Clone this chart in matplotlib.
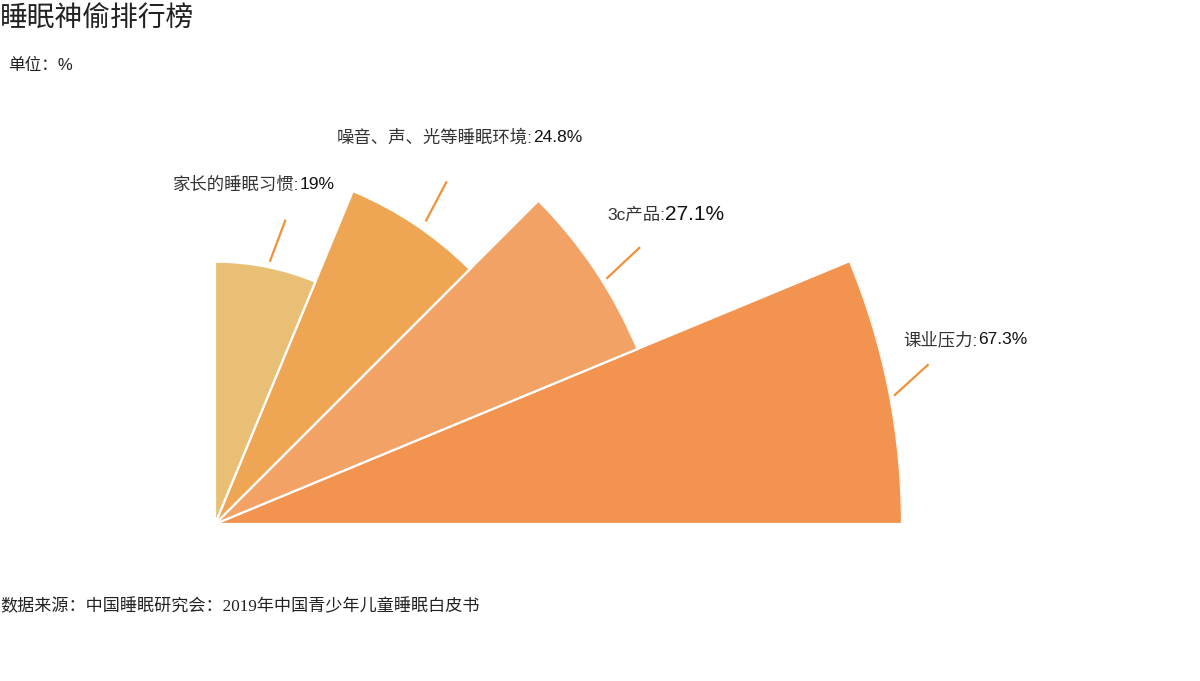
import numpy as np
import matplotlib
matplotlib.use('Agg')
import matplotlib.pyplot as plt
from matplotlib.lines import Line2D

plt.rcParams['font.family'] = ['Liberation Sans', 'Noto Sans CJK SC', 'DejaVu Sans']

# data
categories = ['课业压力', '3c产品', '噪音、声、光等睡眠环境', '家长的睡眠习惯']
percent = [67.3, 27.1, 24.8, 19]
# sector lengths as drawn in the rose (same scale as 67.3)
rose_values = [67.3, 44.8, 35.3, 25.7]
colors = ['#F29450', '#F2A265', '#EFA654', '#E8BF74']

W, H = 1200, 681
fig = plt.figure(figsize=(W / 100, H / 100), dpi=100, facecolor='white')

# polar axes centred at pixel (215, 524) with outer radius 687 px
cx, cy, R = 215, 524, 687
ax = fig.add_axes([(cx - R) / W, (H - cy - R) / H, 2 * R / W, 2 * R / H],
                  projection='polar')
ax.set_ylim(0, max(rose_values))
ax.axis('off')

n = len(categories)
width = np.deg2rad(90 / n)
theta = np.arange(n) * width + width / 2
ax.bar(theta, rose_values, width=width, color=colors, edgecolor='white',
       linewidth=1.6, align='center')

# label lines and texts, offsets in px from the arc midpoint
line_start = [(6, -5), (12, -8), (11, 4), (4, 6)]
line_end = [(39, 25), (44, 22), (31, 42), (19, 46)]
text_off = [(15, 50), (12, 55), (-78, 87), (-93, 82)]
fig.canvas.draw()
for i in range(n):
    ax_x, ax_y = ax.transData.transform((theta[i], rose_values[i]))
    fig.add_artist(Line2D([ax_x + line_start[i][0], ax_x + line_end[i][0]],
                          [ax_y + line_start[i][1], ax_y + line_end[i][1]],
                          transform=None, color='#F0913A', lw=1.6))
    big = 15 if i == 1 else 12.5
    t = fig.text(ax_x + text_off[i][0], ax_y + text_off[i][1],
                 categories[i] + ':', transform=None, ha='left', va='center',
                 fontsize=12.5, color='#333333')
    fig.canvas.draw()
    bb = t.get_window_extent()
    fig.text(bb.x1, (bb.y0 + bb.y1) / 2, f'{percent[i]:g}%', transform=None,
             ha='left', va='center', fontsize=big, color='#111111')

fig.text(0.0, 1 - 20 / H, '睡眠神偷排行榜', fontsize=20, color='#222222',
         ha='left', va='center')
fig.text(8 / W, 1 - 65 / H, '单位：%', fontsize=12, color='#222222',
         ha='left', va='center')
fig.text(0.0, 1 - 607 / H,
         '数据来源：中国睡眠研究会：2019年中国青少年儿童睡眠白皮书',
         fontsize=12.3, color='#222222', ha='left', va='center',
         family=['Liberation Serif', 'Noto Sans CJK SC'])

fig.savefig('out.png', dpi=100, facecolor='white')
